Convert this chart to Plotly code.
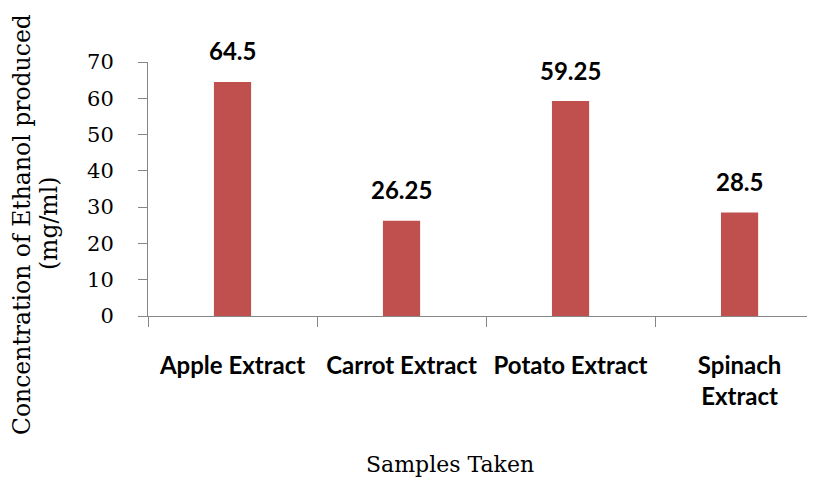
import plotly.graph_objects as go

categories = ["Apple Extract", "Carrot Extract", "Potato Extract", "Spinach<br>Extract"]
values = [64.5, 26.25, 59.25, 28.5]
value_labels = ["64.5", "26.25", "59.25", "28.5"]
y_ticks = [0, 10, 20, 30, 40, 50, 60, 70]
y_title_lines = ["Concentration of Ethanol produced", "(mg/ml)"]
x_title = "Samples Taken"

fig = go.Figure()
fig.add_trace(go.Bar(
    x=categories, y=values, width=0.22,
    marker=dict(color="#C0504D", line=dict(width=0)),
    showlegend=False,
))

for c, v, t in zip(categories, values, value_labels):
    fig.add_annotation(x=c, y=v, text=t, showarrow=False, yshift=31,
                       font=dict(family="Lato", size=24, color="#000000", weight="bold"),
                       yanchor="middle")

# axis titles as annotations (paper coords relative to plot area)
for xp, line in zip([-0.1912, -0.1502], y_title_lines):
    fig.add_annotation(xref="paper", yref="paper", x=xp, y=0.362, text=line,
                       showarrow=False, textangle=-90, xanchor="center", yanchor="middle",
                       font=dict(family="DejaVu Serif", size=23.5, color="#000000"))

fig.add_annotation(xref="paper", yref="paper", x=0.458, y=-0.584, text=x_title,
                   showarrow=False, xanchor="center", yanchor="middle",
                   font=dict(family="DejaVu Serif", size=22, color="#000000"))

fig.update_layout(
    width=799, height=469,
    margin=dict(l=140, r=0, t=54, b=161),
    paper_bgcolor="white", plot_bgcolor="white",
    xaxis=dict(
        type="category", range=[-0.5, 3.399], automargin=False,
        showline=True, linecolor="#868686", linewidth=1,
        ticks="outside", tickson="boundaries", ticklen=10, tickcolor="#868686",
        showgrid=False, zeroline=False,
        tickfont=dict(family="Lato", size=24, color="#000000", weight="bold"),
        ticklabelstandoff=28,
    ),
    yaxis=dict(
        range=[0, 70], tickvals=y_ticks, automargin=False,
        showline=True, linecolor="#868686", linewidth=1,
        ticks="outside", ticklen=9, tickcolor="#868686",
        showgrid=False, zeroline=False,
        tickfont=dict(family="DejaVu Serif", size=21, color="#000000"),
        ticklabelstandoff=20,
    ),
)

fig.write_html("out.html")
